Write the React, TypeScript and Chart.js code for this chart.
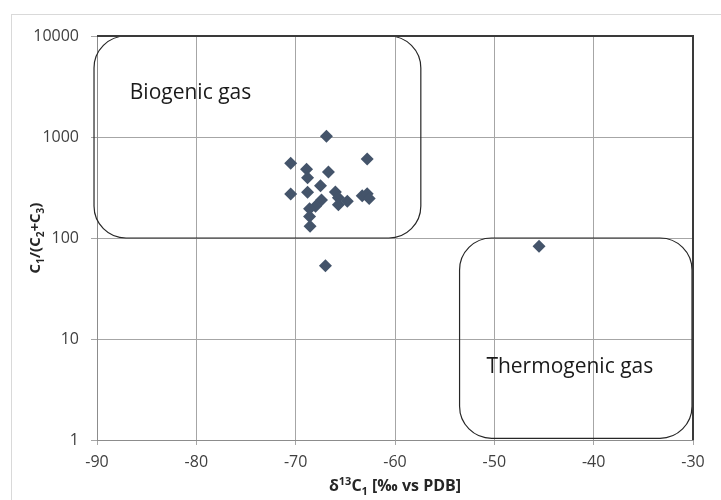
import { useEffect, useRef } from 'react';
import { Chart, registerables } from 'chart.js';

Chart.register(...registerables);

// Isotope composition of methane vs. gas dryness ratio
const deltaC13 = [-66.9, -70.5, -62.8, -68.9, -66.7, -68.8, -67.5, -70.5, -68.8, -66.0, -65.7, -65.7, -64.8, -63.3, -62.8, -62.6, -67.4, -68.0, -68.6, -68.6, -68.55, -67.0, -45.5];
const dryness = [1020, 550, 605, 479, 450, 396, 329, 272, 284, 285, 251, 214, 231, 262, 274, 246, 238, 206, 195, 163, 131, 53, 83];

const xTicks = [-90, -80, -70, -60, -50, -40, -30];
const yTicks = [1, 10, 100, 1000, 10000];

// Genetic classification fields
const zoneNames = ['Biogenic gas', 'Thermogenic gas'];
const zoneXMin = [-90.3, -53.5];
const zoneXMax = [-57.4, -30.1];
const zoneYMin = [100, 1.04];
const zoneYMax = [10000, 100];
const zoneLabelX = [-86.7, -50.8];
const zoneLabelY = [2700, 5.3];

const FONT = '"Open Sans", "Liberation Sans", sans-serif';

type Seg = { t: string; k?: 'sub' | 'sup' };

function drawRich(ctx: CanvasRenderingContext2D, segs: Seg[], size: number, cx: number, cy: number) {
  const small = Math.round(size * 0.68);
  const widths = segs.map((s) => {
    ctx.font = `bold ${s.k ? small : size}px ${FONT}`;
    return ctx.measureText(s.t).width;
  });
  const total = widths.reduce((a, b) => a + b, 0);
  let x = cx - total / 2;
  ctx.textBaseline = 'alphabetic';
  ctx.textAlign = 'left';
  const base = cy + size * 0.35;
  segs.forEach((s, i) => {
    ctx.font = `bold ${s.k ? small : size}px ${FONT}`;
    let y = base;
    if (s.k === 'sub') y = base + size * 0.28;
    if (s.k === 'sup') y = base - size * 0.38;
    ctx.fillText(s.t, x, y);
    x += widths[i];
  });
}

const decorations = {
  id: 'decorations',
  beforeDatasetsDraw(chart: any) {
    const { ctx, scales } = chart;
    const xs = scales.x;
    const ys = scales.y;
    ctx.save();
    zoneNames.forEach((name, i) => {
      const l = xs.getPixelForValue(zoneXMin[i]);
      const r = xs.getPixelForValue(zoneXMax[i]);
      const t = ys.getPixelForValue(zoneYMax[i]);
      const b = ys.getPixelForValue(zoneYMin[i]);
      ctx.beginPath();
      ctx.roundRect(l, t, r - l, b - t, 32);
      ctx.strokeStyle = '#262626';
      ctx.lineWidth = 1.2;
      ctx.stroke();
      ctx.fillStyle = '#1a1a1a';
      ctx.font = `21px ${FONT}`;
      ctx.textAlign = 'left';
      ctx.textBaseline = 'middle';
      ctx.fillText(name, xs.getPixelForValue(zoneLabelX[i]), ys.getPixelForValue(zoneLabelY[i]));
    });
    // dark frame on top and right of plot area
    const { left, right, top, bottom } = chart.chartArea;
    ctx.beginPath();
    ctx.moveTo(left, top);
    ctx.lineTo(right, top);
    ctx.lineTo(right, bottom);
    ctx.strokeStyle = '#3a3a3a';
    ctx.lineWidth = 2;
    ctx.stroke();
    ctx.restore();
  },
  afterDraw(chart: any) {
    const { ctx, chartArea } = chart;
    ctx.save();
    // outer chart frame
    ctx.strokeStyle = '#d9d9d9';
    ctx.lineWidth = 1;
    ctx.strokeRect(11.5, 14.5, 800, 600);
    ctx.fillStyle = '#262626';
    const cx = (chartArea.left + chartArea.right) / 2;
    drawRich(ctx, [
      { t: 'δ' }, { t: '13', k: 'sup' }, { t: 'C' }, { t: '1', k: 'sub' }, { t: ' [‰ vs PDB]' },
    ], 16, cx, 485);
    ctx.translate(35, (chartArea.top + chartArea.bottom) / 2);
    ctx.rotate(-Math.PI / 2);
    drawRich(ctx, [
      { t: 'C' }, { t: '1', k: 'sub' }, { t: '/(C' }, { t: '2', k: 'sub' }, { t: '+C' }, { t: '3', k: 'sub' }, { t: ')' },
    ], 15, 0, 0);
    ctx.restore();
  },
};

export default function App() {
  const ref = useRef<HTMLCanvasElement | null>(null);

  useEffect(() => {
    document.body.style.margin = '0';
    const canvas = ref.current;
    if (!canvas) return;
    const chart = new Chart(canvas, {
      type: 'scatter',
      data: {
        datasets: [
          {
            data: deltaC13.map((x, i) => ({ x, y: dryness[i] })),
            pointStyle: 'rectRot',
            pointRadius: 6.5,
            backgroundColor: '#44546A',
            borderColor: '#44546A',
            borderWidth: 0,
          },
        ],
      },
      options: {
        responsive: false,
        animation: false,
        events: [],
        layout: { padding: { left: 0, right: 28, top: 36, bottom: 0 } },
        plugins: { legend: { display: false }, tooltip: { enabled: false } },
        scales: {
          x: {
            type: 'linear',
            min: -90,
            max: -30,
            afterBuildTicks: (s: any) => {
              s.ticks = xTicks.map((v) => ({ value: v }));
            },
            afterFit: (s: any) => {
              s.height = 60;
            },
            ticks: { color: '#404040', font: { family: FONT, size: 16 }, padding: 8 },
            grid: { color: '#a6a6a6', tickColor: '#a6a6a6', tickLength: 5, lineWidth: 1 },
            border: { color: '#8c8c8c', width: 1 },
          },
          y: {
            type: 'logarithmic',
            min: 1,
            max: 10000,
            afterBuildTicks: (s: any) => {
              s.ticks = yTicks.map((v) => ({ value: v }));
            },
            afterFit: (s: any) => {
              s.width = 97;
            },
            ticks: {
              color: '#404040',
              font: { family: FONT, size: 16 },
              padding: 12,
              callback: (v: any) => String(v),
            },
            grid: { color: '#a6a6a6', tickColor: '#a6a6a6', tickLength: 6, lineWidth: 1 },
            border: { color: '#8c8c8c', width: 1 },
          },
        },
      },
      plugins: [decorations],
    });
    return () => chart.destroy();
  }, []);

  return <canvas ref={ref} width={721} height={500} style={{ display: 'block' }} />;
}
